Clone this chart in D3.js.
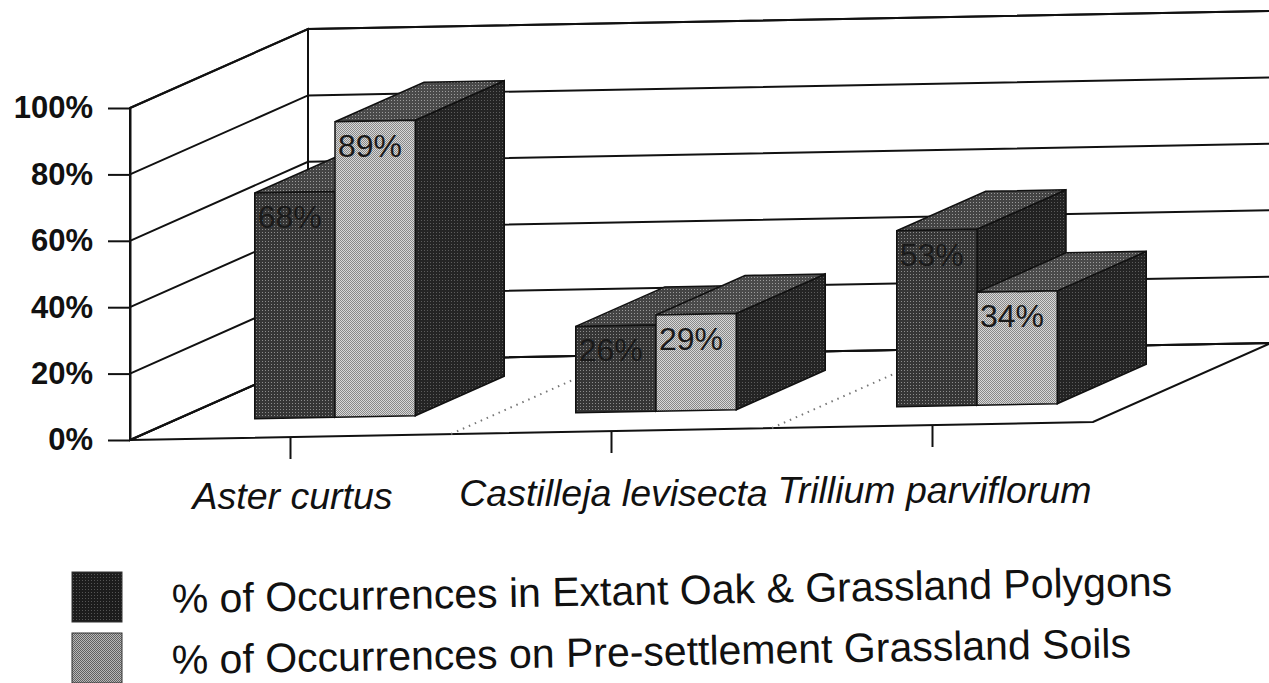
<!DOCTYPE html>
<html>
<head>
<meta charset="utf-8">
<script src="https://cdn.jsdelivr.net/npm/d3@7"></script>
<style>
  html, body { margin: 0; padding: 0; background: #fff; }
  svg { display: block; }
  text { font-family: "Liberation Sans", Arial, sans-serif; }
</style>
</head>
<body>
<svg id="chart" width="1269" height="683"></svg>
<script>
// ---- data ----
const categories = ["Aster curtus", "Castilleja levisecta", "Trillium parviflorum"];
const seriesNames = [
  "% of Occurrences in Extant Oak & Grassland Polygons",
  "% of Occurrences on Pre-settlement Grassland Soils"
];
const extantValues = [68, 26, 53];
const presettlementValues = [89, 29, 34];
const valueTicks = [0, 20, 40, 60, 80, 100];

// ---- geometry ----
const svg = d3.select("#chart");
const O = { x: 130, y: 440 };      // front-left-bottom corner
const W = 963;                      // width of category axis
const slopeX = -18 / 963;           // screen dy per unit along category axis
const D = { x: 178, y: -79 };       // full depth vector

const xBand = d3.scaleBand().domain(categories).range([0, W]).padding(0);
const yVal = d3.scaleLinear().domain([0, 100]).range([0, 332]);
const zDepth = d3.scaleLinear().domain([0, 1]).range([0, 1]);
const seriesBand = d3.scaleBand().domain([0, 1])
  .range([xBand.bandwidth() * 0.25, xBand.bandwidth() * 0.75]).padding(0);

function P(x, v, z) {
  const zz = zDepth(z);
  return [O.x + x + zz * D.x, O.y + x * slopeX - yVal(v) + zz * D.y];
}
const poly = pts => "M" + pts.map(p => p.join(",")).join("L") + "Z";

// ---- patterns (halftone look) ----
const defs = svg.append("defs");
function dotPattern(id, base, dot) {
  const p = defs.append("pattern").attr("id", id).attr("patternUnits", "userSpaceOnUse")
    .attr("width", 3).attr("height", 3);
  p.append("rect").attr("width", 3).attr("height", 3).attr("fill", base);
  p.append("rect").attr("x", 1).attr("y", 1).attr("width", 1).attr("height", 1).attr("fill", dot);
}
function checkPattern(id, a, b) {
  const p = defs.append("pattern").attr("id", id).attr("patternUnits", "userSpaceOnUse")
    .attr("width", 2).attr("height", 2);
  p.append("rect").attr("width", 2).attr("height", 2).attr("fill", a);
  p.append("rect").attr("width", 1).attr("height", 1).attr("fill", b);
  p.append("rect").attr("x", 1).attr("y", 1).attr("width", 1).attr("height", 1).attr("fill", b);
}
dotPattern("darkFront", "#363636", "#8c8c8c");
dotPattern("darkTop", "#444444", "#9a9a9a");
dotPattern("darkSide", "#222222", "#5a5a5a");
checkPattern("lightFront", "#d8d8d8", "#888888");
dotPattern("lightTop", "#4a4a4a", "#9c9c9c");
dotPattern("lightSide", "#242424", "#5c5c5c");
dotPattern("legDark", "#1c1c1c", "#555555");
checkPattern("legLight", "#b8b8b8", "#606060");

const styles = [
  { front: "url(#darkFront)", top: "url(#darkTop)", side: "url(#darkSide)", legend: "url(#legDark)" },
  { front: "url(#lightFront)", top: "url(#lightTop)", side: "url(#lightSide)", legend: "url(#legLight)" }
];

// ---- walls & floor ----
const walls = svg.append("g");
walls.append("path").attr("d", poly([P(0,0,0), P(W,0,0), P(W,0,1), P(0,0,1)]))
  .attr("fill", "#fff").attr("stroke", "#111").attr("stroke-width", 2);
walls.append("path").attr("d", poly([P(0,0,0), P(0,0,1), P(0,100,1), P(0,100,0)]))
  .attr("fill", "#fff").attr("stroke", "#111").attr("stroke-width", 2);
walls.append("path").attr("d", poly([P(0,0,1), P(W,0,1), P(W,100,1), P(0,100,1)]))
  .attr("fill", "#fff").attr("stroke", "#111").attr("stroke-width", 2);

// gridlines on side and back walls
valueTicks.forEach(v => {
  walls.append("path").attr("d", "M" + P(0,v,0) + "L" + P(0,v,1) + "L" + P(W,v,1))
    .attr("fill", "none").attr("stroke", "#111").attr("stroke-width", 2);
});

// dotted category dividers on the floor
categories.slice(1).forEach(c => {
  const x = xBand(c);
  walls.append("path").attr("d", "M" + P(x,0,0) + "L" + P(x,0,1))
    .attr("stroke", "#777").attr("stroke-width", 2).attr("stroke-dasharray", "1.5,5");
});

// ---- bars ----
const bars = svg.append("g");
const seriesValues = [extantValues, presettlementValues];
categories.forEach((c, ci) => {
  [0, 1].forEach(si => {
    const v = seriesValues[si][ci];
    const x0 = xBand(c) + seriesBand(si);
    const x1 = x0 + seriesBand.bandwidth();
    const z0 = 0.25, z1 = 0.75;
    const st = styles[si];
    const g = bars.append("g");
    g.append("path").attr("d", poly([P(x1,0,z0), P(x1,0,z1), P(x1,v,z1), P(x1,v,z0)]))
      .attr("fill", st.side).attr("stroke", "#111").attr("stroke-width", 1.5);
    g.append("path").attr("d", poly([P(x0,v,z0), P(x1,v,z0), P(x1,v,z1), P(x0,v,z1)]))
      .attr("fill", st.top).attr("stroke", "#111").attr("stroke-width", 1.5);
    g.append("path").attr("d", poly([P(x0,0,z0), P(x1,0,z0), P(x1,v,z0), P(x0,v,z0)]))
      .attr("fill", st.front).attr("stroke", "#111").attr("stroke-width", 1.5);
    const lp = P(x0, v, z0);
    g.append("text").attr("x", lp[0] + 3).attr("y", lp[1] + 35)
      .attr("font-size", 32).attr("fill", "#1a1a1a").text(v + "%");
  });
});

// ---- value axis ----
const yScreen = d3.scaleLinear().domain([0, 100]).range([O.y, O.y - yVal(100)]);
const yAxis = svg.append("g").attr("transform", `translate(${O.x},0)`)
  .call(d3.axisLeft(yScreen).tickValues(valueTicks).tickSize(22).tickSizeOuter(0)
    .tickPadding(15).tickFormat(d => d + "%"));
yAxis.selectAll("line, path").attr("stroke", "#111").attr("stroke-width", 2);
yAxis.selectAll("text").attr("font-size", 31).attr("font-weight", "bold")
  .attr("fill", "#111").attr("font-family", '"Liberation Sans", Arial, sans-serif');

// ---- category ticks & labels ----
const catG = svg.append("g");
categories.forEach(c => {
  const cx = xBand(c) + xBand.bandwidth() / 2;
  const p = P(cx, 0, 0);
  catG.append("line").attr("x1", p[0]).attr("y1", p[1]).attr("x2", p[0]).attr("y2", p[1] + 22)
    .attr("stroke", "#111").attr("stroke-width", 2);
  const ly = O.y + 70 + (p[1] - O.y) * 0.5;
  catG.append("text").attr("x", p[0] + 2).attr("y", ly)
    .attr("text-anchor", "middle").attr("font-size", 37.5).attr("font-style", "italic")
    .attr("fill", "#111").text(c);
});

// ---- legend ----
const leg = svg.append("g");
seriesNames.forEach((name, i) => {
  const y = 572 + i * 61;
  leg.append("rect").attr("x", 72).attr("y", y).attr("width", 50).attr("height", 50)
    .attr("fill", styles[i].legend).attr("stroke", "#333").attr("stroke-width", 1);
  leg.append("text").attr("x", 172).attr("y", y + 41)
    .attr("transform", `rotate(-1, 172, ${y + 41})`)
    .attr("font-size", 41).attr("fill", "#111").text(name);
});
</script>
</body>
</html>
